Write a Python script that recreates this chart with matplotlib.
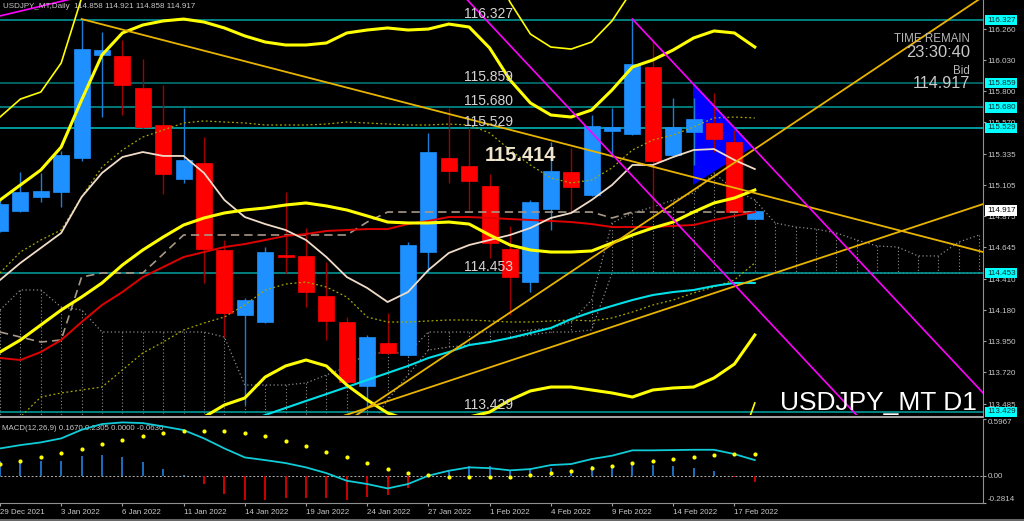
import numpy as np
import matplotlib.pyplot as plt
from matplotlib.lines import Line2D
from matplotlib.patches import Polygon

plt.rcParams['font.family'] = ['Liberation Sans', 'DejaVu Sans']

# daily bars, index 0 = 29 Dec 2021 ... 37 = 18 Feb 2022
opens = [114.766, 114.914, 115.017, 115.054, 115.306, 116.068, 116.061, 115.824, 115.550, 115.150,
         115.269, 114.625, 114.144, 114.092, 114.588, 114.581, 114.285, 114.092, 113.619, 113.937,
         113.848, 114.610, 115.306, 115.247, 115.099, 114.632, 114.388, 114.928, 115.202, 115.032,
         115.506, 115.483, 115.979, 115.328, 115.498, 115.565, 115.424, 114.858]
highs = [115.010, 115.202, 115.195, 115.358, 116.334, 116.238, 116.179, 116.038, 115.846, 115.676,
         115.461, 114.699, 114.270, 114.647, 115.054, 114.788, 114.536, 114.129, 113.996, 114.159,
         114.684, 115.491, 115.676, 115.535, 115.187, 114.803, 114.995, 115.424, 115.380, 115.624,
         115.676, 116.334, 116.179, 115.750, 115.750, 115.787, 115.513, 114.921]
lows = [114.758, 114.906, 114.980, 114.943, 115.284, 115.609, 115.624, 115.520, 115.039, 115.121,
        114.381, 113.981, 113.478, 114.085, 114.455, 114.203, 113.959, 113.641, 113.456, 113.855,
        113.841, 114.462, 115.121, 114.921, 114.566, 114.144, 114.314, 114.773, 114.906, 115.025,
        115.313, 115.476, 114.899, 115.313, 115.254, 115.350, 114.899, 114.858]
closes = [114.965, 115.054, 115.062, 115.328, 116.112, 116.105, 115.846, 115.535, 115.187, 115.291,
          114.632, 114.159, 114.255, 114.610, 114.573, 114.314, 114.100, 113.648, 113.981, 113.863,
          114.662, 115.350, 115.210, 115.136, 114.677, 114.425, 114.980, 115.210, 115.091, 115.543,
          115.535, 116.001, 115.284, 115.535, 115.594, 115.446, 114.906, 114.917]

# bollinger bands (thick = 2 dev, thin = 3 dev, dotted = 1 dev)
bb_up = [114.995, 115.106, 115.217, 115.387, 115.735, 116.068, 116.231, 116.290, 116.320, 116.334,
         116.312, 116.268, 116.209, 116.164, 116.142, 116.142, 116.157, 116.231, 116.253, 116.268,
         116.253, 116.260, 116.297, 116.275, 116.120, 115.883, 115.713, 115.624, 115.609, 115.661,
         115.809, 115.979, 116.031, 116.105, 116.194, 116.246, 116.231, 116.127]
bb_mid = [113.870, 113.959, 114.070, 114.181, 114.277, 114.381, 114.514, 114.625, 114.721, 114.810,
          114.862, 114.899, 114.921, 114.936, 114.958, 114.973, 114.951, 114.921, 114.877, 114.832,
          114.825, 114.825, 114.832, 114.817, 114.736, 114.662, 114.625, 114.610, 114.610, 114.618,
          114.677, 114.736, 114.788, 114.832, 114.906, 114.973, 115.010, 115.069]
bb_lo = [112.745, 112.812, 112.923, 112.975, 112.819, 112.694, 112.797, 112.960, 113.123, 113.286,
         113.389, 113.478, 113.530, 113.685, 113.767, 113.811, 113.767, 113.626, 113.515, 113.419,
         113.367, 113.330, 113.345, 113.389, 113.426, 113.515, 113.582, 113.611, 113.611, 113.589,
         113.567, 113.537, 113.589, 113.604, 113.611, 113.678, 113.781, 113.996]
bb3_up = [115.609, 115.742, 115.794, 116.009, 116.490, 116.920, 117.070, 117.140, 117.180, 117.200,
          117.180, 117.140, 117.070, 117.040, 116.990, 116.990, 117.030, 117.100, 117.140, 117.160,
          117.140, 117.140, 117.180, 117.140, 116.770, 116.460, 116.223, 116.127, 116.112, 116.164,
          116.320, 116.549, 116.700, 116.850, 116.990, 117.100, 117.070, 116.920]
bb3_lo_tail = [113.070, 113.493]  # bars 36, 37
bb1_up = [114.455, 114.610, 114.699, 114.773, 115.017, 115.239, 115.365, 115.461, 115.513, 115.565,
          115.580, 115.572, 115.565, 115.550, 115.550, 115.550, 115.557, 115.572, 115.565, 115.557,
          115.550, 115.550, 115.557, 115.550, 115.491, 115.365, 115.254, 115.158, 115.121, 115.143,
          115.232, 115.365, 115.439, 115.476, 115.535, 115.602, 115.609, 115.602]
bb1_lo = [113.293, 113.389, 113.537, 113.567, 113.589, 113.611, 113.737, 113.863, 113.944, 114.033,
          114.085, 114.129, 114.218, 114.329, 114.373, 114.388, 114.351, 114.277, 114.129, 114.092,
          114.092, 114.100, 114.107, 114.107, 114.100, 114.092, 114.092, 114.100, 114.107, 114.100,
          114.122, 114.166, 114.218, 114.255, 114.307, 114.351, 114.403, 114.529]

# moving averages / ichimoku
tenkan = [114.403, 114.529, 114.640, 114.751, 115.017, 115.195, 115.313, 115.350, 115.321, 115.321,
          115.195, 114.995, 114.869, 114.817, 114.773, 114.699, 114.573, 114.425, 114.344, 114.240,
          114.314, 114.477, 114.603, 114.662, 114.699, 114.736, 114.788, 114.862, 114.899, 114.995,
          115.106, 115.254, 115.254, 115.313, 115.365, 115.372, 115.291, 115.224]
red_ma = [113.826, 113.811, 113.870, 113.959, 114.092, 114.218, 114.314, 114.425, 114.499, 114.573,
          114.610, 114.647, 114.669, 114.699, 114.729, 114.743, 114.766, 114.773, 114.780, 114.780,
          114.817, 114.840, 114.869, 114.869, 114.862, 114.854, 114.847, 114.840, 114.832, 114.817,
          114.795, 114.795, 114.795, 114.803, 114.810, 114.847, 114.877, 114.906]
kijun = [114.018, 113.981, 113.944, 113.959, 114.425, 114.455, 114.455, 114.455, 114.595, 114.736,
         114.736, 114.736, 114.736, 114.736, 114.736, 114.736, 114.736, 114.736, 114.832, 114.906,
         114.906, 114.906, 114.906, 114.906, 114.906, 114.906, 114.906, 114.906, 114.906, 114.906,
         114.862, 114.906, 114.906, 114.906, 114.906, 114.906, 114.906, 114.906]
cyan_ma = [113.352, 113.404, 113.456, 113.508, 113.559, 113.611, 113.663, 113.715, 113.767, 113.826,
           113.870, 113.922, 113.944, 113.974, 114.011, 114.048, 114.114, 114.166, 114.211, 114.255,
           114.292, 114.314, 114.329, 114.359, 114.381, 114.381]  # bars 12..37
span_a = [114.181, 114.329, 114.329, 114.203, 114.181, 114.018, 114.018, 114.018, 114.018, 114.018,
          114.018, 113.981, 113.626, 113.626, 113.626, 113.641, 113.700, 113.759, 113.863, 113.863,
          113.863, 114.018, 114.018, 114.018, 114.018, 114.018, 114.033, 114.048, 114.092, 114.255,
          114.825, 114.899, 114.943, 114.995, 115.047, 115.195, 115.069, 114.995, 114.825, 114.795,
          114.780, 114.751, 114.699, 114.655, 114.647, 114.581, 114.581, 114.684, 114.736]
span_b = [113.22] * 18 + [113.290, 113.515, 113.700, 113.885, 113.907, 113.922, 113.944, 113.974,
                          113.996, 114.018, 114.018, 114.033] + [114.453] * 19

# drawn objects
levels = [116.327, 115.859, 115.680, 115.529, 114.453, 113.429]
level_colors = ['#00a4a4', '#007c7c', '#009a9a', '#00c4c4', '#00a0a0', '#00a4a4']
gold_lines = [((4, 116.334), (48.19, 114.610)),
              ((15, 113.154), (48.19, 116.500)),
              ((15, 113.306), (48.19, 114.965))]
magenta_lines = [((-1, 116.321), (4, 116.501)),
                 ((31, 116.334), (48.19, 113.567)),
                 ((22, 116.622), (44, 113.080))]
triangle = [(33.97, 115.868), (33.97, 115.106), (36.9, 115.387)]

price_ticks = [116.260, 116.030, 115.800, 115.570, 115.335, 115.105, 114.875, 114.645,
               114.410, 114.180, 113.950, 113.720, 113.485]

# MACD(12,26,9)
macd_hist = [0.161, 0.161, 0.161, 0.161, 0.213, 0.223, 0.195, 0.143, 0.070, 0.014,
             -0.083, -0.189, -0.246, -0.246, -0.234, -0.234, -0.234, -0.246, -0.223, -0.199,
             -0.126, -0.009, 0.062, 0.101, 0.101, 0.062, 0.073, 0.080, 0.066, 0.101,
             0.114, 0.149, 0.114, 0.101, 0.083, 0.056, -0.014, -0.0636]
macd_main = [0.289, 0.324, 0.352, 0.394, 0.484, 0.544, 0.561, 0.554, 0.519, 0.481,
             0.394, 0.289, 0.195, 0.167, 0.136, 0.091, 0.031, -0.049, -0.083, -0.129,
             -0.083, 0.004, 0.056, 0.091, 0.083, 0.060, 0.073, 0.115, 0.126, 0.178,
             0.213, 0.269, 0.269, 0.272, 0.275, 0.275, 0.230, 0.167]
macd_signal = [0.126, 0.160, 0.195, 0.237, 0.282, 0.335, 0.379, 0.422, 0.449, 0.467,
               0.474, 0.467, 0.449, 0.414, 0.366, 0.313, 0.254, 0.195, 0.132, 0.073,
               0.027, 0.010, -0.007, -0.014, -0.014, -0.007, 0.007, 0.027, 0.056, 0.087,
               0.108, 0.136, 0.153, 0.174, 0.202, 0.223, 0.236, 0.2305]

date_pos = [0, 3, 6, 9, 12, 15, 18, 21, 24, 27, 30, 33, 36]
date_labels = ['29 Dec 2021', '3 Jan 2022', '6 Jan 2022', '11 Jan 2022', '14 Jan 2022',
               '19 Jan 2022', '24 Jan 2022', '27 Jan 2022', '1 Feb 2022', '4 Feb 2022',
               '9 Feb 2022', '14 Feb 2022', '17 Feb 2022']

W, H = 1024, 521
TXT = '#c8c8c8'
fig = plt.figure(figsize=(W / 100, H / 100), dpi=100, facecolor='black')
ax = fig.add_axes([0, 1 - 415 / H, 983 / W, 415 / H], facecolor='black')
ax2 = fig.add_axes([0, 1 - 503 / H, 983 / W, 84 / H], facecolor='black')
xmax = 983 / 20.4

x = np.arange(len(opens))
o, h, l, c = map(np.array, (opens, highs, lows, closes))
bull = c >= o

# ichimoku cloud hatch
xs = np.arange(len(span_a))
for k in xs:
    ax.plot([k, k], [span_a[k], span_b[k]], color='#8c8c8c', lw=0.8, ls=(0, (1, 2)), zorder=1)
ax.plot(xs, span_a, color='#8c8c8c', lw=0.9, ls=(0, (1, 2)), zorder=1)
ax.plot(xs, span_b, color='#8c8c8c', lw=0.9, ls=(0, (1, 2)), zorder=1)

for lv, col in zip(levels, level_colors):
    ax.axhline(lv, color=col, lw=1.1, zorder=2)

ax.add_patch(Polygon(triangle, closed=True, facecolor='#0000ff', edgecolor='none', zorder=2))

# candles
ax.vlines(x, l, h, colors=np.where(bull, '#1c7ed6', '#a00000'), lw=1.0, zorder=4)
ax.bar(x, np.maximum(np.abs(c - o), 0.006), bottom=np.minimum(o, c), width=0.78,
       color=np.where(bull, '#1e90ff', '#ff0000'), edgecolor=np.where(bull, '#1e90ff', '#ff0000'),
       lw=0.5, zorder=5)

# indicators
ax.plot(x, bb1_up, color='#a8a800', lw=0.9, ls=(0, (1.5, 2)), zorder=6)
ax.plot(x, bb1_lo, color='#a8a800', lw=0.9, ls=(0, (1.5, 2)), zorder=6)
ax.plot(x, kijun, color='#a89888', lw=1.2, ls=(0, (5, 3)), zorder=6)
ax.plot(x, red_ma, color='#e00000', lw=1.4, zorder=6)
ax.plot(x, tenkan, color='#f0dcc8', lw=1.3, zorder=6)
ax.plot(x[12:], cyan_ma, color='#00e0e8', lw=1.5, zorder=6)
ax.plot(x, bb3_up, color='#ffff00', lw=1.2, zorder=6)
ax.plot(x[36:], bb3_lo_tail, color='#ffff00', lw=1.2, zorder=6)
for band in (bb_up, bb_mid, bb_lo):
    ax.plot(x, band, color='#ffff00', lw=2.2, zorder=6)

for (x0, y0), (x1, y1) in gold_lines:
    ax.plot([x0, x1], [y0, y1], color='#e8b400', lw=1.3, zorder=7)
for (x0, y0), (x1, y1) in magenta_lines:
    ax.plot([x0, x1], [y0, y1], color='#ff00ff', lw=1.2, zorder=7)

ax.set_xlim(0, xmax)
ax.set_ylim(113.404, 116.475)
ax.set_xticks([])
ax.yaxis.tick_right()
ax.set_yticks(price_ticks)
ax.set_yticklabels(['%.3f' % t for t in price_ticks])
ax.tick_params(axis='y', colors='#a0a0a0', labelcolor=TXT, labelsize=5.8, length=2, pad=1.5, width=0.8)
for side in ('left', 'top', 'bottom'):
    ax.spines[side].set_visible(False)
ax.spines['right'].set_color('#909090')

# level labels inside chart and on the price scale
for lv in levels:
    ax.text(22.75, lv + 0.017, '%.3f' % lv, color='#d4d4d4', fontsize=10, va='baseline', zorder=8)
    ax.text(1.004, lv, '%.3f' % lv, transform=ax.get_yaxis_transform(), fontsize=5.8,
            color='#103030', va='center', ha='left',
            bbox=dict(boxstyle='square,pad=0.2', fc='#00ffff', ec='none'), zorder=9)
ax.text(1.004, closes[-1], '%.3f' % closes[-1], transform=ax.get_yaxis_transform(), fontsize=5.8,
        color='black', va='center', ha='left',
        bbox=dict(boxstyle='square,pad=0.2', fc='white', ec='none'), zorder=9)
ax.text(23.77, 115.284, '115.414', color='#efe4cc', fontsize=14.5, fontweight='bold',
        va='baseline', zorder=8)

# MACD panel
xm = np.arange(len(macd_hist))
hist = np.array(macd_hist)
ax2.vlines(xm, 0, hist, colors=np.where(hist >= 0, '#1e78d0', '#e00000'), lw=1.3, zorder=3)
ax2.axhline(0, color='#b0b0b0', lw=0.7, ls=(0, (2, 2)), zorder=2)
ax2.plot(xm, macd_main, color='#10ccd8', lw=1.3, zorder=4)
ax2.scatter(xm, macd_signal, s=9, color='#ffff00', zorder=5, linewidths=0)
ax2.set_xlim(0, xmax)
ax2.set_ylim(-0.2814, 0.5967)
ax2.yaxis.tick_right()
ax2.set_yticks([-0.2814, 0, 0.5967])
ax2.set_yticklabels(['-0.2814', '0.00', '0.5967'])
for lbl, va in zip(ax2.get_yticklabels(), ['bottom', 'center', 'top']):
    lbl.set_va(va)
ax2.tick_params(axis='y', colors='#a0a0a0', labelcolor=TXT, labelsize=5.8, length=2, pad=1.5, width=0.8)
ax2.set_xticks(date_pos)
ax2.set_xticklabels(date_labels, ha='left')
ax2.tick_params(axis='x', colors='#a0a0a0', labelcolor=TXT, labelsize=5.7, length=2, pad=2, width=0.8)
ax2.spines['left'].set_visible(False)
ax2.spines['top'].set_visible(False)
ax2.spines['right'].set_color('#909090')
ax2.spines['bottom'].set_color('#909090')
ax2.text(0.002, 0.93, 'MACD(12,26,9) 0.1670 0.2305 0.0000 -0.0636', transform=ax2.transAxes,
         color=TXT, fontsize=5.7, va='top', ha='left')

# panel separators
fig.add_artist(Line2D([0, 983 / W], [1 - 417 / H, 1 - 417 / H], color='#a8a8a8', lw=1.4))
fig.add_artist(Line2D([0, 1], [1 - 519.5 / H, 1 - 519.5 / H], color='#6a6a6a', lw=1.4))

# header and info texts
fig.text(3 / W, 1 - 8 / H, 'USDJPY_MT,Daily  114.858 114.921 114.858 114.917', color=TXT,
         fontsize=5.8, va='baseline', ha='left')
fig.text(970 / W, 1 - 42 / H, 'TIME REMAIN', color='#b8b8b8', fontsize=8.3, ha='right', va='baseline')
fig.text(970 / W, 1 - 57 / H, '23:30:40', color='#c8c8c8', fontsize=11.9, ha='right', va='baseline')
fig.text(970 / W, 1 - 74 / H, 'Bid', color='#b8b8b8', fontsize=8.3, ha='right', va='baseline')
fig.text(970 / W, 1 - 88 / H, '114.917', color='#c8c8c8', fontsize=11.6, ha='right', va='baseline')
fig.text(977 / W, 1 - 410 / H, 'USDJPY_MT D1', color='white', fontsize=19, ha='right', va='baseline')

fig.savefig('out.png', dpi=100, facecolor='black')
